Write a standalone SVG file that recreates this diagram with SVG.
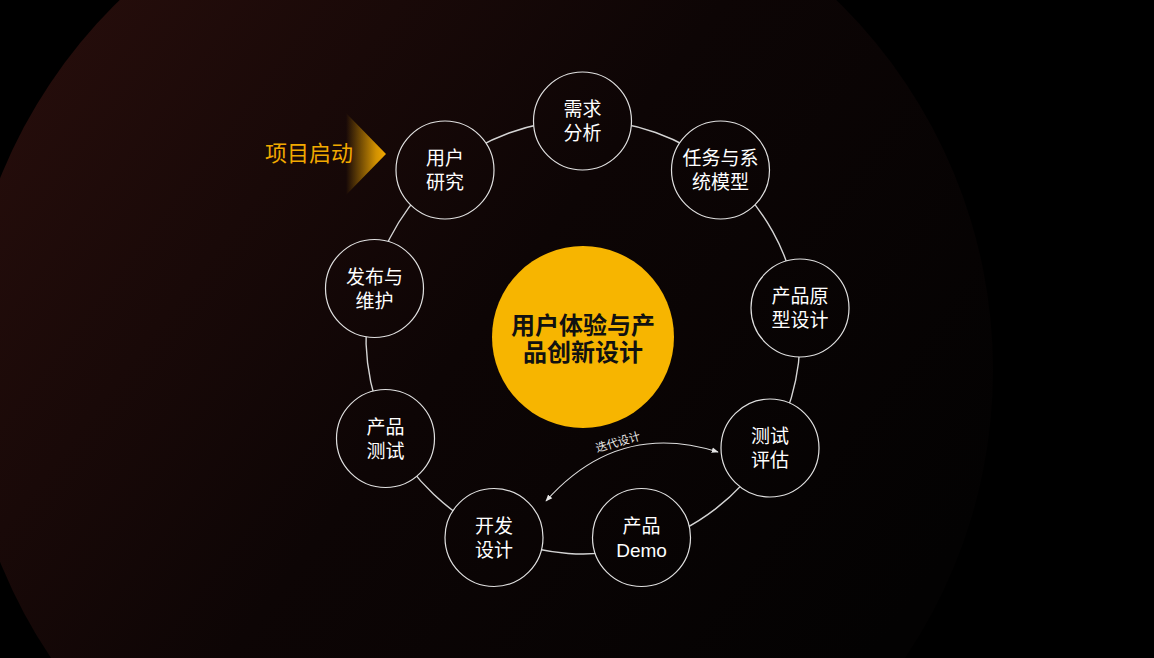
<svg xmlns="http://www.w3.org/2000/svg" width="1154" height="658" viewBox="0 0 1154 658">
  <defs>
    <linearGradient id="bg" gradientUnits="userSpaceOnUse" x1="80" y1="0" x2="900" y2="620">
      <stop offset="0" stop-color="#250d0b"/>
      <stop offset="0.5" stop-color="#0d0505"/>
      <stop offset="1" stop-color="#030202"/>
    </linearGradient>
    <linearGradient id="arrowGrad" x1="0" y1="0" x2="1" y2="0">
      <stop offset="0" stop-color="#f2a900" stop-opacity="0"/>
      <stop offset="0.75" stop-color="#f2a900" stop-opacity="0.85"/>
      <stop offset="1" stop-color="#f2a900" stop-opacity="1"/>
    </linearGradient>
    <marker id="head" viewBox="0 0 10 10" refX="9" refY="5" markerWidth="7" markerHeight="7" orient="auto-start-reverse" markerUnits="userSpaceOnUse">
      <path d="M0,1 L10,5 L0,9 Z" fill="#e6e6e6"/>
    </marker>
    <style>
      .ring { fill: none; stroke: #d4d4d4; stroke-width: 1.4; }
      .node { fill: url(#bg); stroke: #e0e0e0; stroke-width: 1.2; }
      .lbl { font-family: "Noto Sans CJK SC", "Noto Sans", sans-serif; font-size: 19px; fill: #ffffff; text-anchor: middle; }
      .latin { font-family: "Liberation Sans", Arial, sans-serif; }
      .core { font-family: "Noto Sans CJK SC", "Noto Sans", sans-serif; font-size: 24px; font-weight: bold; fill: #111111; text-anchor: middle; }
      .start { font-family: "Noto Sans CJK SC", "Noto Sans", sans-serif; font-size: 22px; fill: #f2a900; }
      .iter { font-family: "Noto Sans CJK SC", "Noto Sans", sans-serif; font-size: 11.5px; fill: #e6e6e6; text-anchor: middle; }
    </style>
  </defs>

  <rect x="0" y="0" width="1154" height="658" fill="#000000"/>
  <circle cx="478" cy="370" r="515" fill="url(#bg)"/>

  <g id="connectors">
    <path class="ring" d="M581.9,120.0 A217,217 0 0 1 720.7,169.3"/>
    <path class="ring" d="M720.7,169.3 A217,217 0 0 1 798.1,308.3"/>
    <path class="ring" d="M798.1,308.3 A217,217 0 0 1 769.6,447.8"/>
    <path class="ring" d="M769.6,447.8 A217,217 0 0 1 643.5,545.4"/>
    <path class="ring" d="M643.5,545.4 A217,217 0 0 1 494.7,535.2"/>
    <path class="ring" d="M494.7,535.2 A217,217 0 0 1 389.7,435.5"/>
    <path class="ring" d="M389.7,435.5 A217,217 0 0 1 371.8,287.1"/>
    <path class="ring" d="M371.8,287.1 A217,217 0 0 1 444.7,169.8"/>
    <path class="ring" d="M444.7,169.8 A217,217 0 0 1 581.9,120.0"/>
    <path id="iterArrow" d="M546,501 Q618,420 718,452" fill="none" stroke="#dcdcdc" stroke-width="1.1" marker-start="url(#head)" marker-end="url(#head)"/>
    <text class="iter" transform="translate(619,446) rotate(-16)">迭代设计</text>
  </g>

  <g id="start">
    <polygon points="346,113 386,154 346,195" fill="url(#arrowGrad)"/>
    <text class="start" x="265" y="161">项目启动</text>
  </g>

  <g id="center">
    <circle cx="583" cy="337" r="91" fill="#f7b500"/>
    <text class="core"><tspan x="583" y="334">用户体验与产</tspan><tspan x="583" y="361">品创新设计</tspan></text>
  </g>

  <g id="n-xuqiu">
    <circle class="node" cx="582.5" cy="121" r="49"/>
    <text class="lbl"><tspan x="582.5" y="116">需求</tspan><tspan x="582.5" y="140">分析</tspan></text>
  </g>
  <g id="n-renwu">
    <circle class="node" cx="720.5" cy="170" r="49"/>
    <text class="lbl"><tspan x="720.5" y="165">任务与系</tspan><tspan x="720.5" y="189">统模型</tspan></text>
  </g>
  <g id="n-yuanxing">
    <circle class="node" cx="800" cy="308" r="49"/>
    <text class="lbl"><tspan x="800" y="303">产品原</tspan><tspan x="800" y="327">型设计</tspan></text>
  </g>
  <g id="n-pinggu">
    <circle class="node" cx="770" cy="448" r="49"/>
    <text class="lbl"><tspan x="770" y="443">测试</tspan><tspan x="770" y="467">评估</tspan></text>
  </g>
  <g id="n-demo">
    <circle class="node" cx="641.5" cy="537.5" r="49"/>
    <text class="lbl"><tspan x="641.5" y="532.5">产品</tspan><tspan class="latin" x="641.5" y="556.5">Demo</tspan></text>
  </g>
  <g id="n-kaifa">
    <circle class="node" cx="494" cy="537.5" r="49"/>
    <text class="lbl"><tspan x="494" y="532.5">开发</tspan><tspan x="494" y="556.5">设计</tspan></text>
  </g>
  <g id="n-ceshi">
    <circle class="node" cx="385.5" cy="438.5" r="49"/>
    <text class="lbl"><tspan x="385.5" y="433.5">产品</tspan><tspan x="385.5" y="457.5">测试</tspan></text>
  </g>
  <g id="n-fabu">
    <circle class="node" cx="374.5" cy="288.5" r="49"/>
    <text class="lbl"><tspan x="374.5" y="283.5">发布与</tspan><tspan x="374.5" y="307.5">维护</tspan></text>
  </g>
  <g id="n-yonghu">
    <circle class="node" cx="445" cy="170" r="49"/>
    <text class="lbl"><tspan x="445" y="165">用户</tspan><tspan x="445" y="189">研究</tspan></text>
  </g>
</svg>
